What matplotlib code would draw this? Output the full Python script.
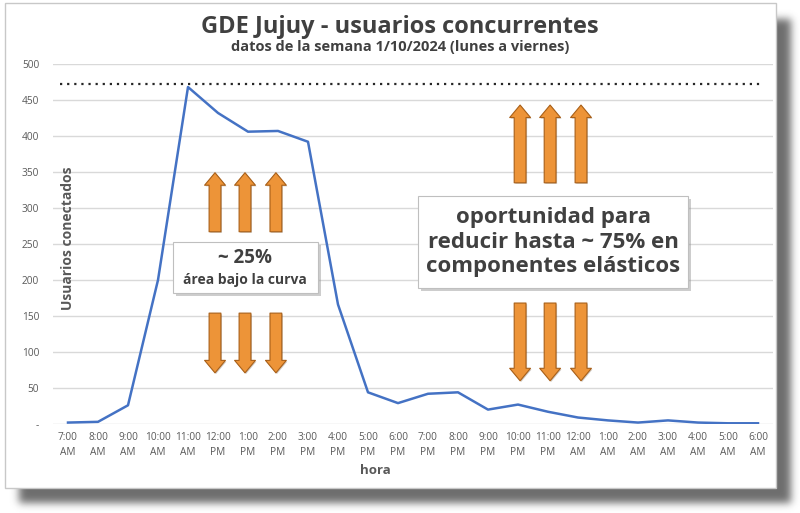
import numpy as np
import matplotlib
matplotlib.use("Agg")
import matplotlib.pyplot as plt
from matplotlib.patches import Rectangle, FancyArrowPatch
import matplotlib.patheffects as pe

plt.rcParams['font.family'] = ['Open Sans', 'DejaVu Sans']

horas = ["7:00\nAM", "8:00\nAM", "9:00\nAM", "10:00\nAM", "11:00\nAM", "12:00\nPM",
         "1:00\nPM", "2:00\nPM", "3:00\nPM", "4:00\nPM", "5:00\nPM", "6:00\nPM",
         "7:00\nPM", "8:00\nPM", "9:00\nPM", "10:00\nPM", "11:00\nPM", "12:00\nAM",
         "1:00\nAM", "2:00\nAM", "3:00\nAM", "4:00\nAM", "5:00\nAM", "6:00\nAM"]
usuarios = [2, 3, 26, 200, 468, 432, 406, 407, 392, 166, 44, 29,
            42, 44, 20, 27, 17, 9, 5, 2, 5, 2, 1, 1]
pico = 472
yticks = [0, 50, 100, 150, 200, 250, 300, 350, 400, 450, 500]
yticklabels = ["-", "50", "100", "150", "200", "250", "300", "350", "400", "450", "500"]

W, H = 800, 513
fig = plt.figure(figsize=(W / 100, H / 100), dpi=100)
fig.patch.set_facecolor("white")

# sombra del panel (desenfocada)
mask = np.zeros((H, W))
mask[19:503, 19:791] = 1.0
k = np.exp(-0.5 * (np.arange(-12, 13) / 4.0) ** 2)
k /= k.sum()
mask = np.apply_along_axis(lambda r: np.convolve(r, k, mode="same"), 1, mask)
mask = np.apply_along_axis(lambda c: np.convolve(c, k, mode="same"), 0, mask)
shadow = np.zeros((H, W, 4))
shadow[..., :3] = 0.40
shadow[..., 3] = mask * 0.95
fig.figimage(shadow, xo=0, yo=0, origin="upper", zorder=-3)

panel = Rectangle((5 / W, (H - 488) / H), 771 / W, 485 / H, transform=fig.transFigure,
                  facecolor="white", edgecolor="#c8c8c8", linewidth=1, zorder=-2)
fig.add_artist(panel)

ax = fig.add_axes([53 / W, (H - 424) / H, 720 / W, 360 / H])
ax.patch.set_alpha(0)
x = np.arange(len(usuarios))
ax.plot(x, usuarios, color="#4472C4", linewidth=1.8, zorder=3)
ax.axhline(pico, xmin=0.01, xmax=0.985, color="#262626", linestyle=(0, (1, 2.2)),
           linewidth=1.6, zorder=3)

ax.set_xlim(-0.5, len(usuarios) - 0.5)
ax.set_ylim(0, 500)
ax.set_yticks(yticks)
ax.set_yticklabels(yticklabels)
ax.set_xticks(x)
ax.set_xticklabels(horas, linespacing=1.45)
ax.grid(axis="y", color="#d9d9d9", linewidth=1)
ax.set_axisbelow(True)
for s in ax.spines.values():
    s.set_visible(False)
ax.tick_params(length=0, colors="#595959", labelsize=7.3)
ax.tick_params(axis="y", pad=10)
ax.tick_params(axis="x", pad=6)

fig.text(400 / W, 1 - 27 / H, "GDE Jujuy - usuarios concurrentes", ha="center", va="center",
         fontsize=17, fontweight="bold", color="#404040")
fig.text(400 / W, 1 - 47 / H, "datos de la semana 1/10/2024 (lunes a viernes)", ha="center",
         va="center", fontsize=10.5, fontweight="bold", color="#404040")
fig.text(68 / W, 1 - 238 / H, "Usuarios conectados", rotation=90, ha="center", va="center",
         fontsize=10, fontweight="bold", color="#595959")
fig.text(375 / W, 1 - 470 / H, "hora", ha="center", va="center",
         fontsize=9.5, fontweight="bold", color="#595959")

# flechas
flecha_x_izq = [4.9, 5.9, 6.93]
flecha_x_der = [15.07, 16.07, 17.1]
flechas = [(flecha_x_izq, 267, 349), (flecha_x_izq, 154, 71),
           (flecha_x_der, 335, 443), (flecha_x_der, 168, 60)]
for xs, y0, y1 in flechas:
    for xa in xs:
        a = FancyArrowPatch((xa, y0), (xa, y1),
                            arrowstyle="simple,head_width=15,head_length=9,tail_width=8.5",
                            facecolor="#ED9438", edgecolor="#A85F18", linewidth=0.8,
                            shrinkA=0, shrinkB=0, zorder=4,
                            path_effects=[pe.SimplePatchShadow(offset=(0.8, -0.8), alpha=0.25),
                                          pe.Normal()])
        ax.add_patch(a)

# cuadros de texto
def caja(x0, y0, x1, y1):
    r = Rectangle((x0 / W, 1 - y1 / H), (x1 - x0) / W, (y1 - y0) / H,
                  transform=fig.transFigure, facecolor="white", edgecolor="#bfbfbf",
                  linewidth=0.8, zorder=5,
                  path_effects=[pe.SimplePatchShadow(offset=(2.5, -2.5), shadow_rgbFace="#909090",
                                                     alpha=0.45), pe.Normal()])
    fig.add_artist(r)

caja(173, 242, 318, 293)
fig.text(245 / W, 1 - 258 / H, "~ 25%", ha="center", va="center", fontsize=13.5,
         fontweight="bold", color="#404040", zorder=6)
fig.text(245 / W, 1 - 280 / H, "área bajo la curva", ha="center", va="center", fontsize=10,
         fontweight="bold", color="#404040", zorder=6)

caja(418, 196, 688, 288)
fig.text(553 / W, 1 - 242 / H, "oportunidad para\nreducir hasta ~ 75% en\ncomponentes elásticos",
         ha="center", va="center", fontsize=16, fontweight="bold", color="#404040",
         linespacing=1.22, zorder=6)

fig.savefig("out.png", dpi=100)
